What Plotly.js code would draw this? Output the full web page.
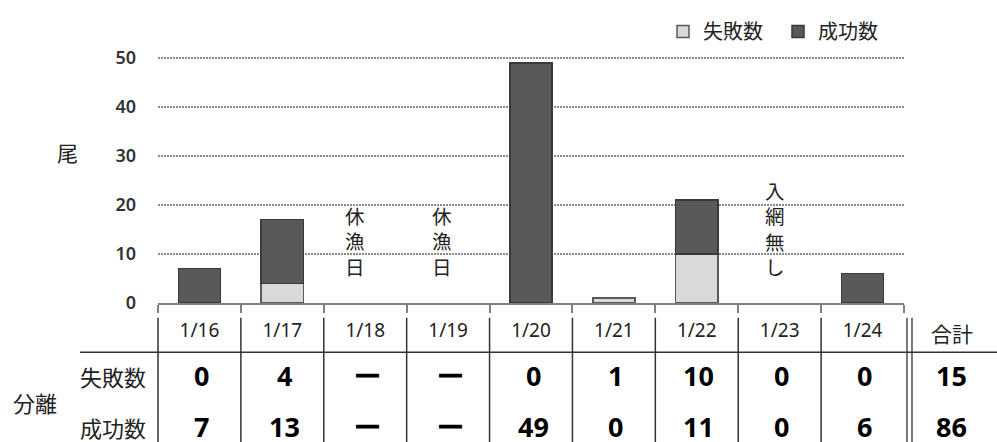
<!DOCTYPE html>
<html>
<head>
<meta charset="utf-8">
<script src="https://cdn.plot.ly/plotly-3.0.1.min.js"></script>
<style>html,body{margin:0;padding:0;background:#fff;}#chart{width:997px;height:442px;}</style>
</head>
<body>
<div id="chart"></div>
<script>
const dates = ['1/16','1/17','1/18','1/19','1/20','1/21','1/22','1/23','1/24'];
const failCounts = [0,4,null,null,0,1,10,0,0];
const successCounts = [7,13,null,null,49,0,11,0,6];
const noteCols = ['1/18','1/19','1/23'];
const noteTexts = ['休漁日','休漁日','入網無し'];
const rowLabels = ['失敗数','成功数'];
const groupLabel = '分離';
const totalLabel = '合計';
const yTicks = [0,10,20,30,40,50];

const JP = '"Noto Sans CJK JP", "Noto Sans", sans-serif';
const NUM = '"Noto Sans", "Open Sans", sans-serif';

const n = dates.length;
const yMax = 50.4;
const L = 158, R = 904, B = 303;
const unitPx = (303 - 54) / 50;
const T = Math.round(B - yMax * unitPx);
const pw = R - L, ph = B - T;
const px2x = p => (p - L) / pw;
const px2y = p => (B - p) / ph;
const colX = i => (i + 0.5) / n;

const fmt = v => v == null ? 'ー' : String(v);
const sum = a => a.reduce((s, v) => s + (v == null ? 0 : v), 0);
const barVal = v => (v == null || v === 0) ? null : v;

const traces = [
  {type:'bar', name:rowLabels[0], x:dates, y:failCounts.map(barVal),
   marker:{color:'#d9d9d9', line:{color:'#5a5a5a', width:1.5}}},
  {type:'bar', name:rowLabels[1], x:dates, y:successCounts.map(barVal),
   marker:{color:'#595959', line:{color:'#3a3a3a', width:1.5}}}
];

const shapes = [];
const annotations = [];
for (let i = 0; i < n; i++) {
  shapes.push({type:'line', xref:'paper', yref:'paper', x0:i/n, x1:i/n, y0:px2y(318), y1:px2y(445),
    line:{color:'#333', width:1.5}});
}
[907, 912].forEach(p => shapes.push({type:'line', xref:'paper', yref:'paper', x0:px2x(p), x1:px2x(p),
  y0:px2y(318), y1:px2y(445), line:{color:'#333', width:1.3}}));
shapes.push({type:'line', xref:'paper', yref:'paper', x0:px2x(80), x1:px2x(1000), y0:px2y(353), y1:px2y(353),
  line:{color:'#333', width:1.5}});

const rows = [failCounts, successCounts];
const rowY = [377, 429];
rows.forEach((arr, r) => {
  arr.forEach((v, i) => {
    annotations.push({xref:'paper', yref:'paper', x:colX(i), y:px2y(rowY[r]), xshift:2, text:fmt(v),
      showarrow:false, xanchor:'center', yanchor:'middle',
      font:{family:NUM, size:27, color:'#000', weight:700}});
  });
  annotations.push({xref:'paper', yref:'paper', x:px2x(951), y:px2y(rowY[r]), text:String(sum(arr)),
    showarrow:false, xanchor:'center', yanchor:'middle', font:{family:NUM, size:27, color:'#000', weight:700}});
  annotations.push({xref:'paper', yref:'paper', x:px2x(113), y:px2y(rowY[r]), text:rowLabels[r],
    showarrow:false, xanchor:'center', yanchor:'middle', font:{family:JP, size:22, color:'#222'}});
});
annotations.push({xref:'paper', yref:'paper', x:px2x(35), y:px2y(404), text:groupLabel,
  showarrow:false, xanchor:'center', yanchor:'middle', font:{family:JP, size:22, color:'#222'}});
annotations.push({xref:'paper', yref:'paper', x:px2x(952), y:px2y(333), text:totalLabel,
  showarrow:false, xanchor:'center', yanchor:'middle', font:{family:JP, size:21, color:'#222'}});
annotations.push({xref:'paper', yref:'paper', x:px2x(67), y:px2y(150), text:'尾',
  showarrow:false, xanchor:'center', yanchor:'middle', font:{family:JP, size:21, color:'#222'}});
const noteShift = [-10, -6, -5];
const noteY = [240, 240, 227];
noteCols.forEach((c, k) => {
  annotations.push({xref:'x', yref:'paper', x:c, xshift:noteShift[k],
    y:px2y(noteY[k]), text:noteTexts[k].split('').join('<br>'), showarrow:false,
    xanchor:'center', yanchor:'middle', align:'center',
    font:{family:JP, size:19.5, color:'#222'}});
});

const layout = {
  width:997, height:442,
  margin:{l:L, r:997-R, t:T, b:442-B, pad:0},
  paper_bgcolor:'#fff', plot_bgcolor:'#fff',
  barmode:'stack', bargap:0.49,
  showlegend:true,
  legend:{orientation:'h', x:px2x(663), xanchor:'left', y:px2y(27), yanchor:'middle',
    font:{family:JP, size:20, color:'#222'}, traceorder:'normal', itemwidth:30, entrywidth:70,
    bgcolor:'rgba(0,0,0,0)'},
  xaxis:{type:'category', range:[-0.5, n-0.5], showline:true, linecolor:'#808080', linewidth:2,
    ticks:'outside', tickson:'boundaries', ticklen:8, tickwidth:2, tickcolor:'#808080',
    showgrid:false, zeroline:false, ticklabelstandoff:9,
    tickfont:{family:NUM, size:19, color:'#222'}},
  yaxis:{range:[0, yMax], tickvals:yTicks, showgrid:true, gridcolor:'#8a8a8a', gridwidth:1.5, griddash:'1.5px,1.5px',
    zeroline:false, showline:false, ticks:'', ticklabelstandoff:21,
    tickfont:{family:NUM, size:18, color:'#333', weight:600}},
  shapes, annotations
};

Plotly.newPlot('chart', traces, layout, {displayModeBar:false, staticPlot:true});
</script>
</body>
</html>
